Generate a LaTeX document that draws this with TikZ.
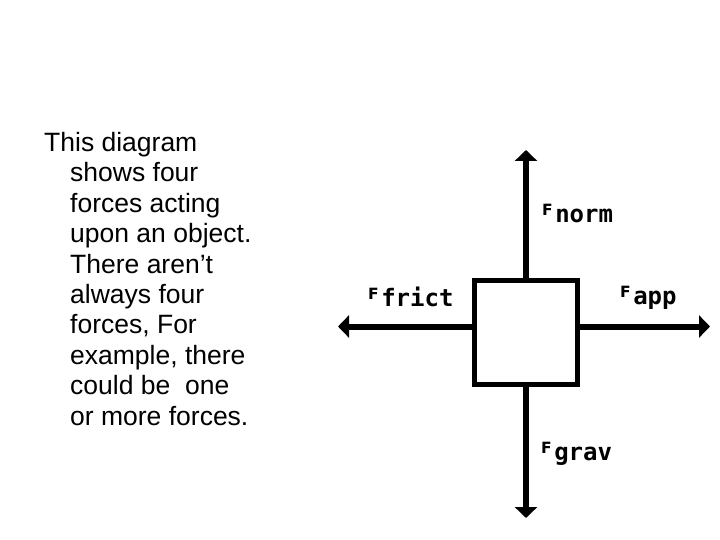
\documentclass[tikz,border=0pt]{standalone}
\usepackage{fontspec}
\setmainfont{Liberation Sans}
\newfontfamily\Fbig{DejaVu Sans}
\newfontfamily\Fsub{DejaVu Sans Mono}
\usetikzlibrary{arrows.meta}
\newcommand{\forcelabel}[1]{{\Fbig\bfseries\fontsize{15.5}{15.5}\selectfont F}\hspace{2.5pt}\raisebox{-7.5pt}{\Fsub\bfseries\fontsize{24}{24}\selectfont #1}}
\begin{document}
\begin{tikzpicture}[x=1pt,y=-1pt,
  force/.style={line width=6pt,-{Triangle[width=22pt,length=11pt]}},
  body/.style={draw,line width=5pt,fill=white},
  flabel/.style={anchor=base west,inner sep=0pt}]
\useasboundingbox (0,0) rectangle (720,540);
\fill[white] (0,0) rectangle (720,540);
% text (anchored at the baseline of its last line)
\node[anchor=base west,inner sep=0pt,align=left,font=\fontsize{26.5}{30.4}\selectfont] (txt) at (44,425)
 {This diagram\\
 \hspace*{26pt}shows four\\
 \hspace*{26pt}forces acting\\
 \hspace*{26pt}upon an object.\\
 \hspace*{26pt}There aren’t\\
 \hspace*{26pt}always four\\
 \hspace*{26pt}forces, For\\
 \hspace*{26pt}example, there\\
 \hspace*{26pt}could be\ \ one\\
 \hspace*{26pt}or more forces.};
% arrow ends
\coordinate (c) at (526,326.5);
\coordinate (up) at (526,150);
\coordinate (down) at (526,518);
\coordinate (left) at (338,326.5);
\coordinate (right) at (710,326.5);
\draw[force] (c) -- (up);
\draw[force] (c) -- (down);
\draw[force] (c) -- (left);
\draw[force] (c) -- (right);
% object
\node[body,minimum width=103pt,minimum height=104pt,inner sep=0pt] (obj) at (526,332.5) {};
% labels
\node[flabel] (fnorm) at (542,215) {\forcelabel{norm}};
\node[flabel] (ffrict) at (368,299) {\forcelabel{frict}};
\node[flabel] (fapp) at (620,297) {\forcelabel{app}};
\node[flabel] (fgrav) at (541,453) {\forcelabel{grav}};
\end{tikzpicture}
\end{document}
